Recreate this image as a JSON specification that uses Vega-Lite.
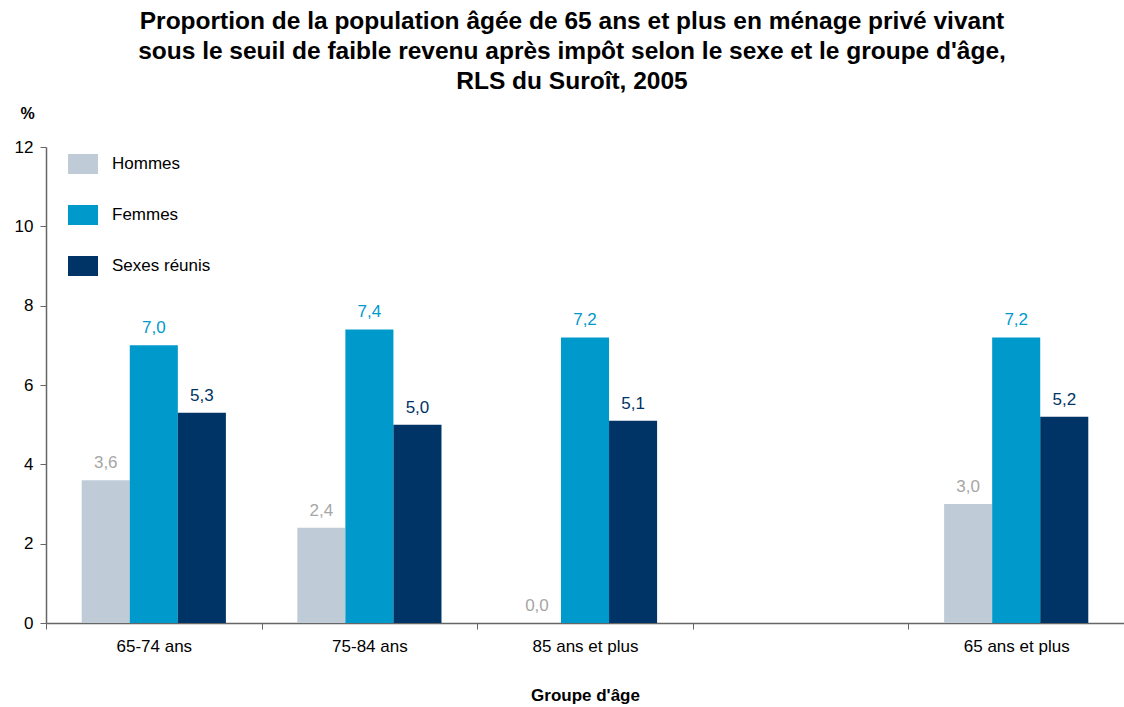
{
  "$schema": "https://vega.github.io/schema/vega-lite/v6.json",
  "autosize": "none",
  "width": 1078,
  "height": 476,
  "padding": {"left": 46, "top": 147, "right": 0, "bottom": 84},
  "background": "white",
  "config": {
    "font": "Liberation Sans",
    "view": {"stroke": null},
    "locale": {"number": {"decimal": ",", "thousands": " ", "grouping": [3], "currency": ["", " $"]}}
  },
  "title": {
    "text": ["Proportion de la population âgée de 65 ans et plus en ménage privé vivant", "sous le seuil de faible revenu après impôt selon le sexe et le groupe d'âge,", "RLS du Suroît, 2005"],
    "font": "Liberation Sans",
    "fontSize": 24.5,
    "fontWeight": "bold",
    "color": "#000000",
    "lineHeight": 30,
    "anchor": "middle",
    "frame": "group",
    "dx": -13,
    "offset": 11
  },
  "data": {
    "values": [
      {"groupe": "65-74 ans", "sexe": "Hommes", "valeur": 3.6},
      {"groupe": "65-74 ans", "sexe": "Femmes", "valeur": 7.0},
      {"groupe": "65-74 ans", "sexe": "Sexes réunis", "valeur": 5.3},
      {"groupe": "75-84 ans", "sexe": "Hommes", "valeur": 2.4},
      {"groupe": "75-84 ans", "sexe": "Femmes", "valeur": 7.4},
      {"groupe": "75-84 ans", "sexe": "Sexes réunis", "valeur": 5.0},
      {"groupe": "85 ans et plus", "sexe": "Hommes", "valeur": 0.0},
      {"groupe": "85 ans et plus", "sexe": "Femmes", "valeur": 7.2},
      {"groupe": "85 ans et plus", "sexe": "Sexes réunis", "valeur": 5.1},
      {"groupe": "65 ans et plus", "sexe": "Hommes", "valeur": 3.0},
      {"groupe": "65 ans et plus", "sexe": "Femmes", "valeur": 7.2},
      {"groupe": "65 ans et plus", "sexe": "Sexes réunis", "valeur": 5.2}
    ]
  },
  "encoding": {
    "x": {
      "field": "groupe",
      "type": "nominal",
      "sort": null,
      "scale": {"domain": ["65-74 ans", "75-84 ans", "85 ans et plus", " ", "65 ans et plus"], "paddingInner": 0, "paddingOuter": 0},
      "axis": {
        "title": "Groupe d'âge",
        "titleFont": "Liberation Sans",
        "titleFontSize": 17,
        "titleFontWeight": "bold",
        "titleColor": "#000000",
        "titlePadding": 33,
        "labelAngle": 0,
        "labelFont": "Liberation Sans",
        "labelFontSize": 17,
        "labelColor": "#000000",
        "labelPadding": 9,
        "domainColor": "#666666",
        "domainWidth": 1.5,
        "tickColor": "#666666",
        "tickSize": 6,
        "tickBand": "extent",
        "grid": false
      }
    },
    "xOffset": {
      "field": "sexe",
      "type": "nominal",
      "sort": ["Hommes", "Femmes", "Sexes réunis"],
      "scale": {"paddingInner": 0, "paddingOuter": 0.743}
    },
    "y": {
      "field": "valeur",
      "type": "quantitative",
      "scale": {"domain": [0, 12], "nice": false},
      "axis": {
        "title": "%",
        "titleAngle": 0,
        "titleFont": "Liberation Sans",
        "titleFontSize": 16,
        "titleFontWeight": "bold",
        "titleColor": "#000000",
        "titleAlign": "center",
        "titleBaseline": "middle",
        "titleX": -19,
        "titleY": -34,
        "values": [0, 2, 4, 6, 8, 10, 12],
        "labelFont": "Liberation Sans",
        "labelFontSize": 17,
        "labelColor": "#000000",
        "labelPadding": 7,
        "domainColor": "#666666",
        "domainWidth": 1.5,
        "tickColor": "#666666",
        "tickSize": 6,
        "grid": false
      }
    }
  },
  "resolve": {"scale": {"color": "independent"}},
  "layer": [
    {
      "mark": {"type": "bar"},
      "encoding": {
        "color": {
          "field": "sexe",
          "type": "nominal",
          "sort": ["Hommes", "Femmes", "Sexes réunis"],
          "scale": {"domain": ["Hommes", "Femmes", "Sexes réunis"], "range": ["#BFCCD8", "#0099CC", "#003366"]},
          "legend": {
            "title": null,
            "orient": "none",
            "legendX": 27,
            "legendY": 7,
            "symbolType": "M-1.5,-1H1.5V1H-1.5Z",
            "symbolSize": 400,
            "symbolStrokeWidth": 0,
            "symbolOpacity": 1,
            "labelFont": "Liberation Sans",
            "labelFontSize": 17,
            "labelColor": "#000000",
            "labelOffset": 19,
            "rowPadding": 31
          }
        }
      }
    },
    {
      "mark": {"type": "text", "baseline": "alphabetic", "dy": -12, "fontSize": 17, "font": "Liberation Sans"},
      "encoding": {
        "text": {"field": "valeur", "type": "quantitative", "format": ".1f"},
        "color": {
          "field": "sexe",
          "type": "nominal",
          "scale": {"domain": ["Hommes", "Femmes", "Sexes réunis"], "range": ["#A6A6A6", "#0099CC", "#003366"]},
          "legend": null
        }
      }
    }
  ]
}
